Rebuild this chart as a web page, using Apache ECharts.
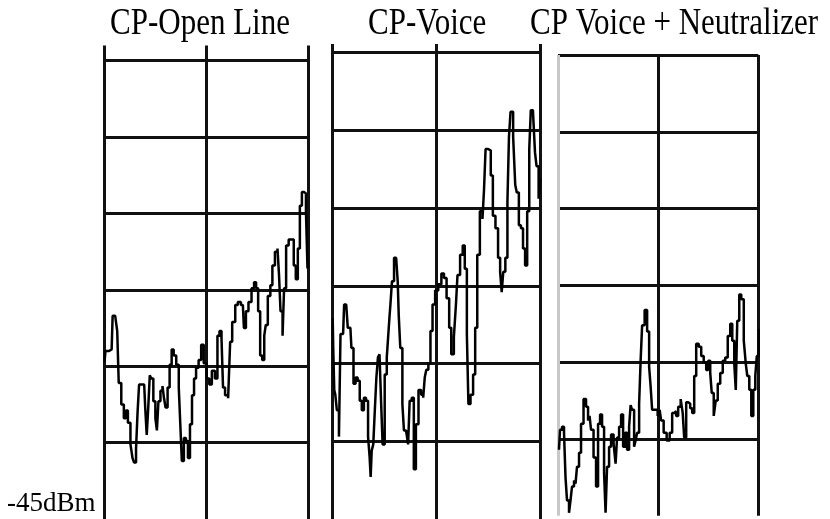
<!DOCTYPE html>
<html>
<head>
<meta charset="utf-8">
<title>CP spectra</title>
<script src="https://cdn.jsdelivr.net/npm/echarts@6/dist/echarts.min.js"></script>
<style>
  html, body { margin: 0; padding: 0; background: #fff; }
  #chart { width: 830px; height: 519px; }
</style>
</head>
<body>
<div id="chart"></div>
<script>
// panel titles and the reference level printed at the bottom left
const panelTitles = ['CP-Open Line', 'CP-Voice', 'CP Voice + Neutralizer']
const refLevelLabel = '-45dBm'

// x is in screen divisions (0..2), level in dBm (5 dB / div, bottom = -45)
const openLineFreq = [
  0, 0.02, 0.07, 0.09, 0.12, 0.13, 0.15, 0.18, 0.20, 0.22,
  0.24, 0.27, 0.28, 0.30, 0.32, 0.33, 0.35, 0.39, 0.41, 0.42,
  0.44, 0.45, 0.47, 0.49, 0.51, 0.52, 0.54, 0.56, 0.58, 0.59,
  0.61, 0.63, 0.65, 0.67, 0.69, 0.72, 0.74, 0.75, 0.77, 0.79,
  0.81, 0.83, 0.85, 0.87, 0.89, 0.91, 0.94, 0.96, 0.99, 1.02,
  1.04, 1.07, 1.10, 1.12, 1.14, 1.16, 1.17, 1.20, 1.23, 1.24,
  1.27, 1.30, 1.32, 1.36, 1.38, 1.40, 1.43, 1.46, 1.48, 1.50,
  1.52, 1.54, 1.56, 1.58, 1.59, 1.62, 1.64, 1.66, 1.69, 1.71,
  1.72, 1.74, 1.76, 1.77, 1.80, 1.82, 1.85, 1.87, 1.89, 1.91,
  1.93, 1.95, 1.97, 1.99, 2.00
]
const openLineLevel = [
  -34.7, -34.0, -33.9, -31.7, -31.7, -32.7, -36.1, -37.5, -38.4, -37.9,
  -38.7, -40.1, -41.0, -41.3, -40.4, -38.0, -36.2, -36.2, -37.7, -39.5,
  -37.7, -35.6, -35.8, -37.3, -38.4, -39.2, -37.3, -36.6, -36.3, -37.1,
  -37.7, -36.4, -34.9, -33.9, -34.3, -34.9, -36.4, -38.8, -41.2, -39.7,
  -39.9, -41.0, -38.8, -36.9, -35.8, -35.1, -34.6, -33.6, -34.8, -35.8,
  -36.2, -35.3, -35.8, -33.0, -32.7, -33.2, -36.4, -36.9, -37.1, -33.4,
  -32.1, -31.0, -30.8, -31.0, -32.5, -31.4, -30.8, -29.9, -29.5, -29.9,
  -31.4, -34.3, -34.6, -33.0, -32.3, -30.4, -29.7, -28.4, -27.5, -27.3,
  -29.0, -31.4, -33.0, -29.9, -27.1, -26.7, -26.7, -28.4, -29.3, -27.3,
  -24.5, -23.6, -23.7, -24.9, -28.6
]

const voiceFreq = [
  0, 0.01, 0.02, 0.03, 0.05, 0.07, 0.08, 0.10, 0.12, 0.14,
  0.15, 0.17, 0.19, 0.21, 0.23, 0.25, 0.27, 0.29, 0.31, 0.33,
  0.35, 0.36, 0.37, 0.38, 0.40, 0.41, 0.43, 0.44, 0.46, 0.47,
  0.49, 0.51, 0.53, 0.54, 0.55, 0.56, 0.58, 0.60, 0.62, 0.63,
  0.64, 0.66, 0.68, 0.69, 0.72, 0.73, 0.75, 0.77, 0.79, 0.81,
  0.84, 0.86, 0.88, 0.89, 0.91, 0.93, 0.95, 0.97, 1.00, 1.03,
  1.06, 1.08, 1.11, 1.13, 1.15, 1.18, 1.19, 1.21, 1.24, 1.26,
  1.28, 1.30, 1.31, 1.34, 1.36, 1.38, 1.40, 1.43, 1.45, 1.46,
  1.48, 1.51, 1.53, 1.55, 1.58, 1.60, 1.62, 1.63, 1.65, 1.67,
  1.69, 1.70, 1.72, 1.75, 1.76, 1.78, 1.80, 1.82, 1.84, 1.86,
  1.88, 1.90, 1.91, 1.94, 1.95, 1.97, 1.99, 2.00
]
const voiceLevel = [
  -32.1, -34.0, -36.7, -37.0, -38.0, -39.7, -33.1, -33.1, -31.2, -31.2,
  -32.7, -32.7, -34.0, -36.3, -35.9, -36.1, -37.4, -38.0, -37.2, -37.4,
  -39.7, -41.0, -42.3, -40.6, -40.2, -38.0, -35.9, -34.6, -34.4, -37.4,
  -40.2, -35.7, -34.6, -33.1, -32.1, -31.2, -29.7, -28.2, -28.2, -29.7,
  -31.9, -34.0, -37.6, -39.3, -39.3, -40.2, -37.4, -37.2, -41.8, -38.9,
  -36.7, -37.0, -37.2, -35.9, -35.4, -35.0, -32.9, -31.2, -30.3, -29.9,
  -29.2, -29.5, -30.8, -32.7, -34.4, -33.3, -31.2, -29.3, -28.0, -27.4,
  -28.9, -33.1, -37.6, -37.0, -35.7, -32.7, -28.0, -25.2, -25.7, -23.8,
  -21.2, -21.3, -22.9, -25.5, -26.3, -28.2, -29.1, -30.4, -29.1, -28.2,
  -24.6, -20.4, -18.8, -20.4, -23.5, -24.0, -26.1, -26.3, -27.6, -28.7,
  -25.2, -21.2, -18.7, -18.7, -21.4, -22.3, -24.4, -23.1
]

const neutralFreq = [
  0.01, 0.03, 0.05, 0.07, 0.08, 0.10, 0.12, 0.13, 0.15, 0.17,
  0.18, 0.20, 0.22, 0.24, 0.27, 0.29, 0.31, 0.32, 0.34, 0.37,
  0.39, 0.41, 0.43, 0.45, 0.47, 0.48, 0.50, 0.52, 0.54, 0.57,
  0.58, 0.60, 0.62, 0.64, 0.66, 0.68, 0.70, 0.72, 0.73, 0.75,
  0.77, 0.78, 0.80, 0.82, 0.83, 0.85, 0.88, 0.90, 0.92, 0.93,
  0.95, 0.98, 1.01, 1.02, 1.04, 1.07, 1.10, 1.13, 1.15, 1.17,
  1.19, 1.21, 1.24, 1.25, 1.27, 1.29, 1.31, 1.33, 1.35, 1.37,
  1.39, 1.42, 1.44, 1.47, 1.49, 1.51, 1.53, 1.54, 1.57, 1.58,
  1.61, 1.63, 1.66, 1.68, 1.71, 1.73, 1.75, 1.77, 1.78, 1.80,
  1.82, 1.84, 1.87, 1.88, 1.90, 1.92, 1.94, 1.96, 1.98, 1.99,
  2.02, 2.05
]
const neutralLevel = [
  -40.7, -39.4, -39.2, -39.6, -42.5, -44.0, -44.8, -44.0, -43.1, -42.7,
  -42.9, -41.8, -40.9, -39.0, -37.4, -37.9, -38.8, -38.5, -39.4, -41.2,
  -43.1, -39.0, -38.4, -39.2, -42.2, -44.8, -41.8, -40.5, -39.7, -40.3,
  -41.6, -39.9, -39.2, -38.4, -40.5, -39.6, -40.7, -39.2, -37.8, -38.1,
  -40.5, -40.1, -39.6, -37.7, -34.9, -32.6, -31.6, -33.0, -35.3, -36.6,
  -38.1, -38.1, -38.5, -38.1, -38.8, -39.6, -40.1, -39.6, -38.3, -38.2,
  -38.5, -37.9, -37.4, -38.3, -39.9, -37.6, -37.7, -38.0, -38.3, -35.9,
  -33.8, -34.0, -34.6, -35.0, -35.5, -34.9, -35.7, -37.0, -38.5, -37.5,
  -36.4, -35.7, -34.9, -34.7, -33.3, -32.5, -33.6, -35.1, -36.8, -32.3,
  -30.6, -30.9, -33.6, -35.1, -35.9, -36.8, -38.5, -36.8, -35.9, -34.6,
  -32.9, -33.6
]

const zip = (xs, ys) => xs.map((x, i) => [x, ys[i]])
const traces = [
  zip(openLineFreq, openLineLevel),
  zip(voiceFreq, voiceLevel),
  zip(neutralFreq, neutralLevel)
]

// where each scanned panel sits on the page
const panels = [
  { left: 104.5, top: 45.4, width: 203.5, height: 476.5, max: -14, maxLine: false, titleX: 110, edge: '#111' },
  { left: 332.7, top: 44.1, width: 208, height: 478.4, max: -14.45, maxLine: false, titleX: 368, edge: '#111' },
  { left: 558, top: 55, width: 200.3, height: 460.8, max: -15, maxLine: true, titleX: 530, edge: '#c8c8c8' }
]

const serif = '"Liberation Serif", "Times New Roman", serif'
const chart = echarts.init(document.getElementById('chart'))

chart.setOption({
  animation: false,
  backgroundColor: '#fff',
  grid: panels.map(p => ({ left: p.left, top: p.top, width: p.width, height: p.height })),
  xAxis: panels.map((p, i) => ({
    type: 'value',
    gridIndex: i,
    min: 0,
    max: 2,
    interval: 1,
    axisLine: { show: false },
    axisTick: { show: false },
    axisLabel: { show: false },
    splitLine: {
      show: true,
      lineStyle: { color: [p.edge, '#111', '#111'], width: 3 }
    }
  })),
  yAxis: panels.map((p, i) => ({
    type: 'value',
    gridIndex: i,
    min: -45,
    max: p.max,
    interval: 5,
    axisLine: { show: false },
    axisTick: { show: false },
    axisLabel: { show: false },
    splitLine: {
      show: true,
      showMinLine: false,
      showMaxLine: p.maxLine,
      lineStyle: { color: '#111', width: 3 }
    }
  })),
  series: traces.map((data, i) => ({
    type: 'line',
    xAxisIndex: i,
    yAxisIndex: i,
    data: data,
    step: 'middle',
    showSymbol: false,
    clip: false,
    silent: true,
    lineStyle: { color: '#000', width: 2.5 }
  })),
  graphic: panels.map((p, i) => ({
    type: 'text',
    x: p.titleX,
    y: 24,
    scaleY: 1.25,
    style: {
      text: panelTitles[i],
      font: '31px ' + serif,
      fill: '#000',
      align: 'left',
      verticalAlign: 'middle'
    }
  })).concat([{
    type: 'text',
    x: 7,
    y: 504,
    style: {
      text: refLevelLabel,
      font: '27px ' + serif,
      fill: '#000',
      align: 'left',
      verticalAlign: 'middle'
    }
  }])
})
</script>
</body>
</html>
